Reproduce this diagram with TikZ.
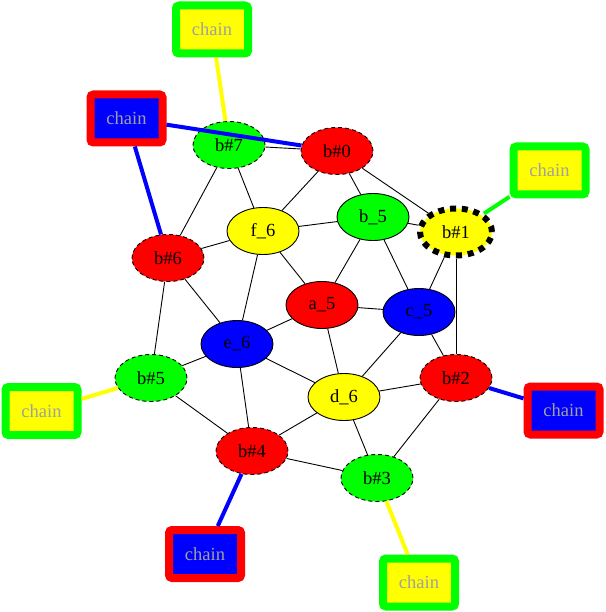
\documentclass[tikz,border=0pt]{standalone}
\usepackage{fontspec}
\setmainfont{Liberation Serif}
\usetikzlibrary{shapes.geometric}
\definecolor{cred}{RGB}{255,0,0}
\definecolor{cgreen}{RGB}{0,255,0}
\definecolor{cblue}{RGB}{0,0,255}
\definecolor{cyellow}{RGB}{255,255,0}
\definecolor{cgray}{RGB}{160,160,160}
\tikzset{
  vnode/.style={ellipse,draw=black,line width=0.9pt,minimum width=72pt,minimum height=47pt,inner sep=0pt,font=\fontsize{18.5}{20}\selectfont},
  bnode/.style={vnode,dash pattern=on 4pt off 3pt},
  bigdash/.style={vnode,line width=6pt,dash pattern=on 6pt off 5.8pt},
  chainbox/.style={rectangle,rounded corners=3pt,line width=8pt,minimum width=72pt,minimum height=48pt,inner sep=0pt,text=cgray,font=\fontsize{18.5}{20}\selectfont},
  gy/.style={chainbox,draw=cgreen,fill=cyellow},
  rb/.style={chainbox,draw=cred,fill=cblue},
  edge/.style={draw=black,line width=0.9pt},
  cedge/.style={line width=4pt},
}
\begin{document}
\begin{tikzpicture}[x=1pt,y=-1pt]
\useasboundingbox (0,0) rectangle (605,612);
% nodes
\node[bnode,fill=cgreen] (b7) at (229,145) {b\#7};
\node[bnode,fill=cred] (b0) at (337,151) {b\#0};
\node[bigdash,fill=cyellow] (b1) at (456,232) {b\#1};
\node[vnode,fill=cgreen] (b5) at (373,217) {b\_5};
\node[vnode,fill=cyellow] (f6) at (263,231) {f\_6};
\node[bnode,fill=cred] (b6) at (168,258) {b\#6};
\node[vnode,fill=cred] (a5) at (322,305) {a\_5};
\node[vnode,fill=cblue] (c5) at (419,312) {c\_5};
\node[vnode,fill=cblue] (e6) at (237,344) {e\_6};
\node[bnode,fill=cgreen] (bb5) at (151,378) {b\#5};
\node[vnode,fill=cyellow] (d6) at (344,397) {d\_6};
\node[bnode,fill=cred] (b2) at (456,378) {b\#2};
\node[bnode,fill=cred] (b4) at (252,451) {b\#4};
\node[bnode,fill=cgreen] (b3) at (377,478) {b\#3};
% chain boxes
\node[gy] (ch1) at (212,29.5) {chain};
\node[rb] (ch2) at (126.5,118.5) {chain};
\node[gy] (ch3) at (549.5,170.5) {chain};
\node[gy] (ch4) at (41.5,411) {chain};
\node[rb] (ch5) at (563.5,410.5) {chain};
\node[rb] (ch6) at (205,554) {chain};
\node[gy] (ch7) at (419,582.5) {chain};
% black edges
\foreach \u/\v in {b7/b0,b7/f6,b7/b6,b0/f6,b0/b5,b0/b1,b5/f6,b5/b1,b5/a5,b5/c5,
  f6/b6,f6/a5,f6/e6,b1/c5,b1/b2,b6/e6,b6/bb5,a5/c5,a5/e6,a5/d6,c5/d6,c5/b2,
  e6/bb5,e6/d6,e6/b4,bb5/b4,d6/b2,d6/b4,d6/b3,b2/b3,b4/b3}
  \draw[edge] (\u) -- (\v);
% chain connectors
\draw[cedge,cyellow] (ch1) -- (b7);
\draw[cedge,cblue] (ch2) -- (b0);
\draw[cedge,cblue] (ch2) -- (b6);
\draw[cedge,cgreen] (ch3) -- (b1);
\draw[cedge,cyellow] (ch4) -- (bb5);
\draw[cedge,cblue] (ch5) -- (b2);
\draw[cedge,cblue] (ch6) -- (b4);
\draw[cedge,cyellow] (ch7) -- (b3);
\end{tikzpicture}
\end{document}
